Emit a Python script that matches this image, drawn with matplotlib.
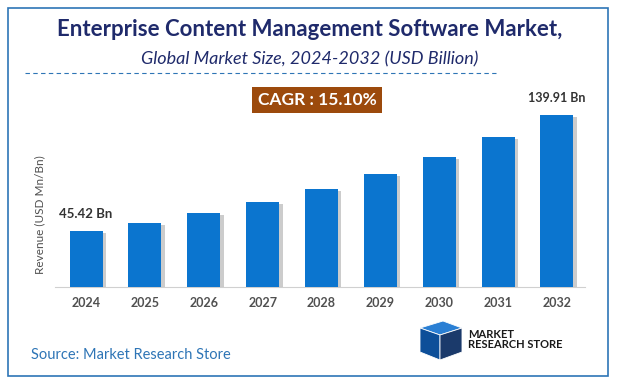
import matplotlib
matplotlib.use("Agg")
from matplotlib import pyplot
from matplotlib.patches import Rectangle, Polygon
import matplotlib.patheffects as pe

years = ["2024", "2025", "2026", "2027", "2028", "2029", "2030", "2031", "2032"]
revenue = [45.42, 52.3, 60.2, 69.3, 79.7, 91.8, 105.6, 121.6, 139.91]
first_label = "45.42 Bn"
last_label = "139.91 Bn"
cagr_text = "CAGR : 15.10%"

pyplot.rcParams['font.family'] = ['Lato', 'DejaVu Sans']

W, H = 619, 386
fig = pyplot.figure(figsize=(W / 100, H / 100), dpi=100)


def fx(px):
    return px / W


def fy(py):
    return 1 - py / H


# outer border
fig.patches.append(Rectangle((fx(8), fy(376)), fx(600), 368 / H, transform=fig.transFigure,
                             fill=False, edgecolor='#2E75B6', linewidth=1.2))

fig.text(0.5, fy(30), "Enterprise Content Management Software Market,", ha='center', va='center',
         fontsize=16, fontweight='bold', color='#1F2A6B')
fig.text(0.5, fy(59), "Global Market Size, 2024-2032 (USD Billion)", ha='center', va='center',
         fontsize=13, style='italic', color='#1F2A6B')
fig.add_artist(pyplot.Line2D([fx(25), fx(496)], [fy(73), fy(73)], transform=fig.transFigure,
                             color='#2E75B6', linestyle=(0, (4, 3)), linewidth=0.8))

fig.text(fx(317), fy(100), cagr_text, ha='center', va='center', fontsize=12.5, fontweight='bold',
         color='white', bbox=dict(boxstyle='square,pad=0.3', facecolor='#9C4A0C', edgecolor='none'))

ax = fig.add_axes([fx(55), fy(287), fx(530), 197 / H])
x = list(range(len(years)))
bars = ax.bar(x, revenue, width=0.56, color='#0B75CF', zorder=3)
for b in bars:
    b.set_path_effects([pe.SimplePatchShadow(offset=(2.5, -1.5), shadow_rgbFace='#9A9A9A', alpha=0.5),
                        pe.Normal()])

ax.set_xlim(-0.527, 8.476)
ax.set_ylim(0, 160)
ax.set_xticks(x)
ax.set_xticklabels(years, fontsize=9, fontweight='bold', color='#505050')
ax.tick_params(axis='x', length=0, pad=7)
ax.set_yticks([])
for s in ['top', 'right', 'left']:
    ax.spines[s].set_visible(False)
ax.spines['bottom'].set_color('#D0D0D0')
ax.set_ylabel("Revenue (USD Mn/Bn)", fontsize=8.5, color='#505050')
ax.yaxis.set_label_coords(-0.018, 0.365)

ax.annotate(first_label, (x[0], revenue[0]), xytext=(0, 8), textcoords='offset points',
            ha='center', va='bottom', fontsize=9.5, fontweight='bold', color='#333333')
ax.annotate(last_label, (x[-1], revenue[-1]), xytext=(0, 8), textcoords='offset points',
            ha='center', va='bottom', fontsize=9, fontweight='bold', color='#333333')

fig.text(fx(31), fy(355), "Source: Market Research Store", ha='left', va='center',
         fontsize=10.5, color='#2E75B6')

# logo
cube_top = [(fx(420), fy(328)), (fx(443), fy(321)), (fx(462), fy(328)), (fx(440), fy(335))]
cube_left = [(fx(420), fy(328)), (fx(440), fy(335)), (fx(440), fy(360)), (fx(420), fy(352))]
cube_right = [(fx(440), fy(335)), (fx(462), fy(328)), (fx(462), fy(352)), (fx(440), fy(360))]
for pts, col in [(cube_top, '#2A7FD4'), (cube_left, '#0D4F99'), (cube_right, '#1B3A6B')]:
    fig.patches.append(Polygon(pts, closed=True, transform=fig.transFigure, facecolor=col, edgecolor='white',
                               linewidth=0.6))
fig.text(fx(468), fy(334), "MARKET", ha='left', va='center', fontsize=8, fontweight='bold', color='#1A1A1A')
fig.text(fx(468), fy(345), "RESEARCH STORE", ha='left', va='center', fontsize=8, fontweight='bold',
         color='#1A1A1A')

fig.savefig("out.png", dpi=100)
